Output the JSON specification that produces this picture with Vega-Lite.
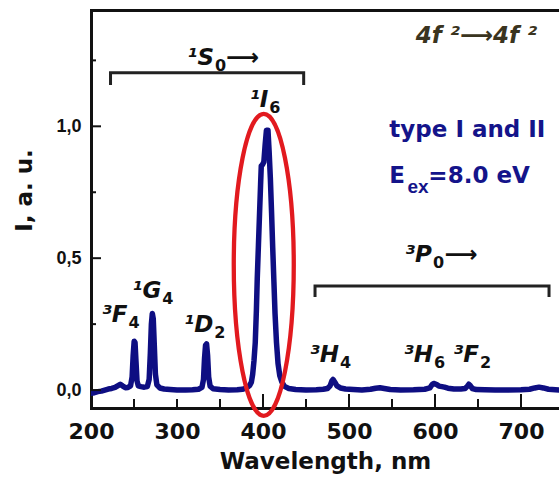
{
  "$schema": "https://vega.github.io/schema/vega-lite/v6.json",
  "width": 468,
  "height": 398,
  "autosize": "none",
  "padding": {"left": 91, "top": 10, "right": 0, "bottom": 73},
  "background": "white",
  "config": {
    "view": {"stroke": null},
    "axis": {"grid": false, "domainColor": "#111111", "labelColor": "#111111", "titleColor": "#111111"}
  },
  "datasets": {
    "spectrum": [
      {"wl": 200, "I": -0.012}, {"wl": 204, "I": -0.01}, {"wl": 208, "I": -0.006}, {"wl": 212, "I": -0.004},
      {"wl": 216, "I": 0.0}, {"wl": 220, "I": 0.004}, {"wl": 224, "I": 0.006}, {"wl": 228, "I": 0.01},
      {"wl": 231, "I": 0.016}, {"wl": 234, "I": 0.022}, {"wl": 237, "I": 0.015}, {"wl": 240, "I": 0.009},
      {"wl": 243, "I": 0.01}, {"wl": 246, "I": 0.016}, {"wl": 247.8, "I": 0.05}, {"wl": 249, "I": 0.13},
      {"wl": 250.2, "I": 0.185}, {"wl": 251.2, "I": 0.18}, {"wl": 252.3, "I": 0.11}, {"wl": 253.5, "I": 0.035},
      {"wl": 255, "I": 0.016}, {"wl": 258, "I": 0.013}, {"wl": 262, "I": 0.011}, {"wl": 265.5, "I": 0.013},
      {"wl": 267.6, "I": 0.04}, {"wl": 269, "I": 0.14}, {"wl": 270.2, "I": 0.25}, {"wl": 271.3, "I": 0.29},
      {"wl": 272.4, "I": 0.27}, {"wl": 273.6, "I": 0.17}, {"wl": 274.9, "I": 0.06}, {"wl": 276.6, "I": 0.02},
      {"wl": 280, "I": 0.008}, {"wl": 285, "I": 0.004}, {"wl": 292, "I": 0.002}, {"wl": 300, "I": 0.0},
      {"wl": 310, "I": 0.0}, {"wl": 318, "I": 0.001}, {"wl": 325, "I": 0.003}, {"wl": 329, "I": 0.01},
      {"wl": 330.8, "I": 0.04}, {"wl": 332, "I": 0.12}, {"wl": 333.2, "I": 0.17}, {"wl": 334.4, "I": 0.175},
      {"wl": 335.6, "I": 0.13}, {"wl": 336.8, "I": 0.05}, {"wl": 338.5, "I": 0.015}, {"wl": 342, "I": 0.005},
      {"wl": 350, "I": 0.002}, {"wl": 360, "I": 0.0}, {"wl": 370, "I": 0.001}, {"wl": 376, "I": 0.003},
      {"wl": 381, "I": 0.008}, {"wl": 384.5, "I": 0.018}, {"wl": 386.5, "I": 0.03}, {"wl": 388, "I": 0.06},
      {"wl": 389.5, "I": 0.11}, {"wl": 391, "I": 0.18}, {"wl": 392.3, "I": 0.3}, {"wl": 393.3, "I": 0.42},
      {"wl": 394.7, "I": 0.55}, {"wl": 396, "I": 0.67}, {"wl": 397.2, "I": 0.78}, {"wl": 398, "I": 0.85},
      {"wl": 399.5, "I": 0.855}, {"wl": 401, "I": 0.865}, {"wl": 402.5, "I": 0.93}, {"wl": 404, "I": 0.985},
      {"wl": 405.8, "I": 0.985}, {"wl": 407.2, "I": 0.9}, {"wl": 408.6, "I": 0.8}, {"wl": 410, "I": 0.67},
      {"wl": 411.3, "I": 0.54}, {"wl": 412.7, "I": 0.41}, {"wl": 414, "I": 0.29}, {"wl": 415.7, "I": 0.18},
      {"wl": 417.5, "I": 0.1}, {"wl": 419.5, "I": 0.055}, {"wl": 422, "I": 0.03}, {"wl": 425, "I": 0.014},
      {"wl": 430, "I": 0.006}, {"wl": 438, "I": 0.002}, {"wl": 450, "I": 0.0}, {"wl": 462, "I": 0.001},
      {"wl": 470, "I": 0.003}, {"wl": 475, "I": 0.006}, {"wl": 478, "I": 0.016}, {"wl": 480, "I": 0.034},
      {"wl": 481.5, "I": 0.04}, {"wl": 483.5, "I": 0.03}, {"wl": 486, "I": 0.016}, {"wl": 490, "I": 0.008},
      {"wl": 496, "I": 0.004}, {"wl": 505, "I": 0.002}, {"wl": 515, "I": 0.0}, {"wl": 525, "I": 0.003},
      {"wl": 531, "I": 0.007}, {"wl": 536, "I": 0.009}, {"wl": 541, "I": 0.006}, {"wl": 548, "I": 0.002},
      {"wl": 560, "I": 0.0}, {"wl": 575, "I": 0.001}, {"wl": 588, "I": 0.003}, {"wl": 594, "I": 0.008},
      {"wl": 596.5, "I": 0.02}, {"wl": 598.5, "I": 0.025}, {"wl": 601.5, "I": 0.022}, {"wl": 604.5, "I": 0.015},
      {"wl": 608, "I": 0.013}, {"wl": 611, "I": 0.011}, {"wl": 615, "I": 0.007}, {"wl": 622, "I": 0.004},
      {"wl": 630, "I": 0.004}, {"wl": 635, "I": 0.006}, {"wl": 637.5, "I": 0.014}, {"wl": 639.3, "I": 0.022},
      {"wl": 641.2, "I": 0.016}, {"wl": 643.5, "I": 0.006}, {"wl": 648, "I": 0.002}, {"wl": 658, "I": 0.001},
      {"wl": 670, "I": 0.0}, {"wl": 685, "I": 0.0}, {"wl": 700, "I": 0.001}, {"wl": 710, "I": 0.003},
      {"wl": 716, "I": 0.008}, {"wl": 721, "I": 0.011}, {"wl": 726, "I": 0.008}, {"wl": 732, "I": 0.003},
      {"wl": 740, "I": 0.001}, {"wl": 745, "I": 0.0}
    ],
    "xMajorTicks": [{"wl": 400}, {"wl": 500}, {"wl": 600}, {"wl": 700}],
    "xMinorTicks": [{"wl": 250}, {"wl": 300}, {"wl": 350}, {"wl": 450}, {"wl": 550}, {"wl": 650}],
    "yMajorTicks": [{"I": 0}, {"I": 0.5}, {"I": 1.0}],
    "yMinorTicks": [{"I": 0.25}, {"I": 0.75}, {"I": 1.25}],
    "brackets": [
      {"group": "S0", "o": 1, "wl": 222.7, "I": 1.157},
      {"group": "S0", "o": 2, "wl": 222.7, "I": 1.203},
      {"group": "S0", "o": 3, "wl": 447.3, "I": 1.203},
      {"group": "S0", "o": 4, "wl": 447.3, "I": 1.157},
      {"group": "P0", "o": 1, "wl": 460.5, "I": 0.353},
      {"group": "P0", "o": 2, "wl": 460.5, "I": 0.395},
      {"group": "P0", "o": 3, "wl": 732.6, "I": 0.395},
      {"group": "P0", "o": 4, "wl": 732.6, "I": 0.353}
    ],
    "highlight": [
      {"wl": 400.9, "I": 0.475}
    ],
    "levels": [
      {"term": "¹S", "j": "0", "wl": 343.0, "I": 1.234},
      {"term": "¹I", "j": "6", "wl": 406.2, "I": 1.072},
      {"term": "³F", "j": "4", "wl": 242.4, "I": 0.259},
      {"term": "¹G", "j": "4", "wl": 281.7, "I": 0.348},
      {"term": "¹D", "j": "2", "wl": 342.2, "I": 0.221},
      {"term": "³H", "j": "4", "wl": 488.4, "I": 0.108},
      {"term": "³H", "j": "6", "wl": 597.7, "I": 0.108},
      {"term": "³F", "j": "2", "wl": 651.2, "I": 0.108},
      {"term": "³P", "j": "0", "wl": 596.5, "I": 0.486}
    ],
    "arrows": [
      {"text": "⟶", "wl": 357.0, "I": 1.234},
      {"text": "⟶", "wl": 611.0, "I": 0.486}
    ],
    "header": [
      {"text": "4f ²⟶4f ²", "wl": 718.6, "I": 1.315}
    ],
    "notes": [
      {"text": "type I and II", "wl": 546.9, "I": 0.961},
      {"text": "E", "wl": 546.9, "I": 0.784},
      {"text": "=8.0 eV", "wl": 592.3, "I": 0.784}
    ],
    "noteSubs": [
      {"text": "ex", "wl": 568.0, "I": 0.784}
    ]
  },
  "layer": [
    {
      "data": {"name": "spectrum"},
      "mark": {"type": "line", "color": "#0e0e82", "strokeWidth": 5.5, "strokeJoin": "round", "strokeCap": "round", "clip": true},
      "encoding": {
        "x": {
          "field": "wl", "type": "quantitative",
          "scale": {"domain": [200, 744.2], "nice": false, "zero": false},
          "axis": {
            "orient": "bottom", "values": [200, 300, 400, 500, 600, 700], "ticks": false,
            "domainWidth": 3, "domainCap": "square",
            "labelFont": "DejaVu Sans", "labelFontSize": 22, "labelFontWeight": "bold",
            "labelPadding": 13, "labelFlush": false, "labelOverlap": false,
            "title": "Wavelength, nm", "titleFont": "DejaVu Sans", "titleFontSize": 23, "titleFontWeight": "bold",
            "titleBaseline": "alphabetic", "titleAlign": "center", "titleX": 234, "titleY": 60
          }
        },
        "y": {
          "field": "I", "type": "quantitative",
          "scale": {"domain": [-0.068, 1.441], "nice": false, "zero": false},
          "axis": {
            "orient": "left", "values": [0, 0.5, 1], "ticks": false,
            "domainWidth": 3, "domainCap": "square",
            "labelFont": "Liberation Sans", "labelFontSize": 18, "labelFontWeight": "bold",
            "labelPadding": 10, "labelExpr": "replace(format(datum.value, '.1f'), '.', ',')",
            "title": "I, a. u.", "titleFont": "DejaVu Sans", "titleFontSize": 23, "titleFontWeight": "bold",
            "titleAngle": -90, "titleBaseline": "alphabetic", "titleAlign": "center", "titleX": -60, "titleY": 180
          }
        }
      }
    },
    {
      "data": {"name": "xMajorTicks"},
      "mark": {"type": "tick", "orient": "vertical", "color": "#111111", "size": 14, "thickness": 2, "yOffset": -7, "opacity": 1},
      "encoding": {
        "x": {"field": "wl", "type": "quantitative", "axis": null},
        "y": {"datum": -0.068, "type": "quantitative", "axis": null}
      }
    },
    {
      "data": {"name": "xMinorTicks"},
      "mark": {"type": "tick", "orient": "vertical", "color": "#111111", "size": 9, "thickness": 2, "yOffset": -4.5, "opacity": 1},
      "encoding": {
        "x": {"field": "wl", "type": "quantitative", "axis": null},
        "y": {"datum": -0.068, "type": "quantitative", "axis": null}
      }
    },
    {
      "data": {"name": "yMajorTicks"},
      "mark": {"type": "tick", "orient": "horizontal", "color": "#111111", "size": 10, "thickness": 2, "xOffset": 5, "opacity": 1},
      "encoding": {
        "x": {"datum": 200, "type": "quantitative", "axis": null},
        "y": {"field": "I", "type": "quantitative", "axis": null}
      }
    },
    {
      "data": {"name": "yMinorTicks"},
      "mark": {"type": "tick", "orient": "horizontal", "color": "#111111", "size": 5, "thickness": 2, "xOffset": 2.5, "opacity": 1},
      "encoding": {
        "x": {"datum": 200, "type": "quantitative", "axis": null},
        "y": {"field": "I", "type": "quantitative", "axis": null}
      }
    },
    {
      "data": {"name": "brackets"},
      "mark": {"type": "line", "color": "#222222", "strokeWidth": 3, "strokeJoin": "miter"},
      "encoding": {
        "x": {"field": "wl", "type": "quantitative", "axis": null},
        "y": {"field": "I", "type": "quantitative", "axis": null},
        "detail": {"field": "group", "type": "nominal"},
        "order": {"field": "o", "type": "quantitative"}
      }
    },
    {
      "data": {"name": "highlight"},
      "mark": {
        "type": "point", "filled": false, "stroke": "#e21a1f", "strokeWidth": 4.3, "opacity": 1, "size": 91204,
        "shape": "M0,-1C0.1097,-1,0.1987,-0.5523,0.1987,0C0.1987,0.5523,0.1097,1,0,1C-0.1097,1,-0.1987,0.5523,-0.1987,0C-0.1987,-0.5523,-0.1097,-1,0,-1Z"
      },
      "encoding": {
        "x": {"field": "wl", "type": "quantitative", "axis": null},
        "y": {"field": "I", "type": "quantitative", "axis": null}
      }
    },
    {
      "data": {"name": "levels"},
      "mark": {"type": "text", "font": "DejaVu Sans", "fontSize": 23, "fontWeight": "bold", "fontStyle": "italic", "align": "right", "baseline": "alphabetic", "color": "#111111"},
      "encoding": {
        "x": {
          "field": "wl", "type": "quantitative",
          "axis": {"orient": "top", "domainWidth": 3, "domainCap": "square", "ticks": false, "labels": false, "title": null}
        },
        "y": {"field": "I", "type": "quantitative", "axis": null},
        "text": {"field": "term"}
      }
    },
    {
      "data": {"name": "levels"},
      "mark": {"type": "text", "font": "DejaVu Sans", "fontSize": 16, "fontWeight": "bold", "align": "left", "baseline": "alphabetic", "dx": 1, "dy": 6, "color": "#111111"},
      "encoding": {
        "x": {"field": "wl", "type": "quantitative", "axis": null},
        "y": {"field": "I", "type": "quantitative", "axis": null},
        "text": {"field": "j"}
      }
    },
    {
      "data": {"name": "arrows"},
      "mark": {"type": "text", "font": "DejaVu Sans", "fontSize": 23, "fontWeight": "bold", "align": "left", "baseline": "alphabetic", "color": "#111111"},
      "encoding": {
        "x": {"field": "wl", "type": "quantitative", "axis": null},
        "y": {"field": "I", "type": "quantitative", "axis": null},
        "text": {"field": "text"}
      }
    },
    {
      "data": {"name": "header"},
      "mark": {"type": "text", "font": "DejaVu Sans", "fontSize": 23, "fontWeight": "bold", "fontStyle": "italic", "align": "right", "baseline": "alphabetic", "color": "#3a3420"},
      "encoding": {
        "x": {"field": "wl", "type": "quantitative", "axis": null},
        "y": {"field": "I", "type": "quantitative", "axis": null},
        "text": {"field": "text"}
      }
    },
    {
      "data": {"name": "notes"},
      "mark": {"type": "text", "font": "DejaVu Sans", "fontSize": 23, "fontWeight": "bold", "align": "left", "baseline": "alphabetic", "color": "#14148a"},
      "encoding": {
        "x": {"field": "wl", "type": "quantitative", "axis": null},
        "y": {"field": "I", "type": "quantitative", "axis": null},
        "text": {"field": "text"}
      }
    },
    {
      "data": {"name": "noteSubs"},
      "mark": {"type": "text", "font": "Liberation Sans", "fontSize": 19, "fontWeight": "bold", "align": "left", "baseline": "alphabetic", "dy": 10, "color": "#14148a"},
      "encoding": {
        "x": {"field": "wl", "type": "quantitative", "axis": null},
        "y": {"field": "I", "type": "quantitative", "axis": null},
        "text": {"field": "text"}
      }
    }
  ],
  "resolve": {"axis": {"x": "independent", "y": "independent"}}
}
